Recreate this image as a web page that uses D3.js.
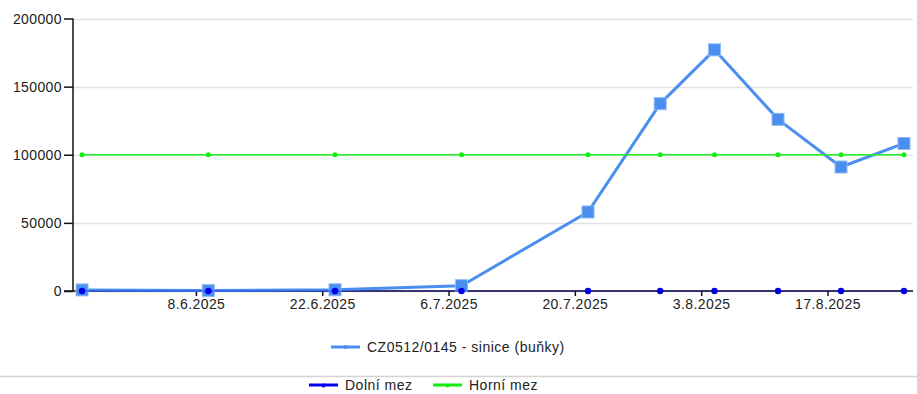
<!DOCTYPE html>
<html>
<head>
<meta charset="utf-8">
<script src="https://cdn.jsdelivr.net/npm/d3@7"></script>
<style>
  body { margin: 0; background: #fff; }
  svg { font-family: "Liberation Sans", Arial, sans-serif; }
  .axis text { fill: #222; font-size: 14px; letter-spacing: 0.4px; }
  .legend text { fill: #222; font-size: 14px; letter-spacing: 0.5px; }
</style>
</head>
<body>
<div id="chart"></div>
<script>
// sampling dates (day.month.2025, time of sampling)
var dates = ["2025-05-26T09:00", "2025-06-09T09:00", "2025-06-23T10:00", "2025-07-07T10:30",
             "2025-07-21T11:00", "2025-07-29T11:00", "2025-08-04T11:30", "2025-08-11T12:30",
             "2025-08-18T12:00", "2025-08-25T11:30"];
var cyano = [800, 300, 900, 3900, 58000, 137500, 177000, 126000, 91000, 108300];
var lowerLimit = [0, 0, 0, 0, 0, 0, 0, 0, 0, 0];
var upperLimit = [100000, 100000, 100000, 100000, 100000, 100000, 100000, 100000, 100000, 100000];
var yTicks = [0, 50000, 100000, 150000, 200000];
var xTicks = ["2025-06-08", "2025-06-22", "2025-07-06", "2025-07-20", "2025-08-03", "2025-08-17"];
var seriesName = "CZ0512/0145 - sinice (buňky)";
var limitNames = ["Dolní mez", "Horní mez"];

var width = 917, height = 394;
var margin = {top: 18.5, right: 4, bottom: 103, left: 73};
var parse = d3.isoParse;
var day = 864e5;

var svg = d3.select("#chart").append("svg")
    .attr("width", width)
    .attr("height", height);

var t = dates.map(parse);
var x = d3.scaleTime()
    .domain([new Date(+t[0] - day), new Date(+t[t.length - 1] + day)])
    .range([margin.left, width - margin.right]);
var y = d3.scaleLinear()
    .domain([0, 200000])
    .range([height - margin.bottom, margin.top]);

// grid
svg.append("g")
    .selectAll("line")
    .data(yTicks)
    .enter().append("line")
    .attr("x1", margin.left)
    .attr("x2", width - margin.right)
    .attr("y1", function (d) { return Math.round(y(d)) + 0.5; })
    .attr("y2", function (d) { return Math.round(y(d)) + 0.5; })
    .attr("stroke", "#e2e2e2")
    .attr("stroke-width", 1.5);

// axes
var yAxis = svg.append("g")
    .attr("class", "axis")
    .attr("transform", "translate(" + margin.left + ",0)")
    .call(d3.axisLeft(y).tickValues(yTicks).tickSize(9).tickPadding(2).tickFormat(d3.format("d")));

var fmt = function (d) { return d.getDate() + "." + (d.getMonth() + 1) + "." + d.getFullYear(); };
var xAxis = svg.append("g")
    .attr("class", "axis")
    .attr("transform", "translate(0," + y(0) + ")")
    .call(d3.axisBottom(x).tickValues(xTicks.map(parse)).tickSize(5).tickPadding(3).tickFormat(fmt));

svg.selectAll(".axis .domain").attr("stroke", "#111").attr("stroke-width", 1.5);
svg.selectAll(".axis .tick line").attr("stroke", "#111").attr("stroke-width", 1.5);
yAxis.select(".domain").attr("d", "M0," + y(0) + "V" + y(200000));
xAxis.select(".domain").attr("d", "M" + (margin.left - 9) + ",0H" + (width - margin.right));
yAxis.selectAll(".tick text").attr("dy", "0.35em");

var line = function (vals) {
    return d3.line()
        .x(function (d, i) { return x(t[i]); })
        .y(function (d) { return y(d); })(vals);
};

// main series
svg.append("path")
    .attr("d", line(cyano))
    .attr("fill", "none")
    .attr("stroke", "#4a8ef0")
    .attr("stroke-width", 3)
    .attr("stroke-linejoin", "round");
svg.append("g")
    .selectAll("rect")
    .data(cyano)
    .enter().append("rect")
    .attr("x", function (d, i) { return x(t[i]) - 6; })
    .attr("y", function (d) { return y(d) - 6; })
    .attr("width", 12)
    .attr("height", 12)
    .attr("fill", "#4a8ef0")
    .attr("stroke", "#8fbaf5")
    .attr("stroke-width", 1);

// lower limit
svg.append("path")
    .attr("d", line(lowerLimit))
    .attr("fill", "none")
    .attr("stroke", "#0000ee")
    .attr("stroke-opacity", 0.35)
    .attr("stroke-width", 1.5);
svg.append("g")
    .selectAll("circle")
    .data(lowerLimit)
    .enter().append("circle")
    .attr("cx", function (d, i) { return x(t[i]); })
    .attr("cy", function (d) { return y(d); })
    .attr("r", 3.2)
    .attr("fill", "#0000e6");

// upper limit
svg.append("path")
    .attr("d", line(upperLimit))
    .attr("fill", "none")
    .attr("stroke", "#22ee22")
    .attr("stroke-width", 1.5);
svg.append("g")
    .selectAll("circle")
    .data(upperLimit)
    .enter().append("circle")
    .attr("cx", function (d, i) { return x(t[i]); })
    .attr("cy", function (d) { return y(d); })
    .attr("r", 2.5)
    .attr("fill", "#11ee11");

// legends
var leg = svg.append("g").attr("class", "legend");
leg.append("line")
    .attr("x1", 331).attr("x2", 360).attr("y1", 347).attr("y2", 347)
    .attr("stroke", "#4a8ef0").attr("stroke-width", 3);
leg.append("circle").attr("cx", 345.5).attr("cy", 347).attr("r", 2).attr("fill", "#4a8ef0");
leg.append("text").attr("x", 367).attr("y", 352).text(seriesName);

svg.append("line")
    .attr("x1", 0).attr("x2", width).attr("y1", 376.5).attr("y2", 376.5)
    .attr("stroke", "#d4d4d4").attr("stroke-width", 1.5);

var limitColors = ["#0000ee", "#11ee11"];
var limitX = [309, 433];
limitNames.forEach(function (name, i) {
    leg.append("line")
        .attr("x1", limitX[i]).attr("x2", limitX[i] + 29).attr("y1", 385).attr("y2", 385)
        .attr("stroke", limitColors[i]).attr("stroke-width", 3);
    leg.append("circle").attr("cx", limitX[i] + 14.5).attr("cy", 385.5).attr("r", 2).attr("fill", limitColors[i]);
    leg.append("text").attr("x", limitX[i] + 36).attr("y", 390).text(name);
});
</script>
</body>
</html>
